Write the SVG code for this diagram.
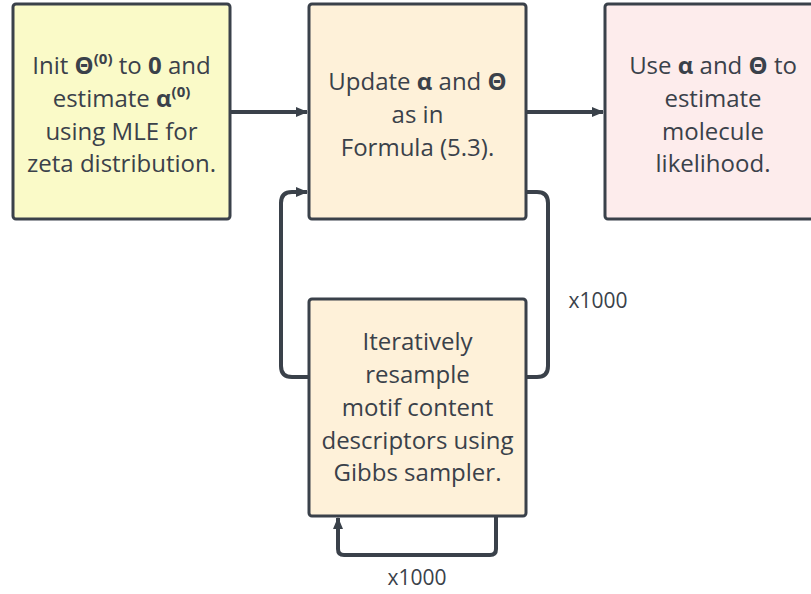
<svg xmlns="http://www.w3.org/2000/svg" width="811" height="594" viewBox="0 0 811 594">
  <style>
    .box { stroke: #3a414a; stroke-width: 3; }
    .t { font-family: "Open Sans", "Liberation Sans", sans-serif; font-size: 24px; fill: #3a414a; text-anchor: middle; }
    .b { font-weight: 700; }
    .sup { font-size: 15px; font-weight: 700; }
    .lbl { font-family: "Open Sans", "Liberation Sans", sans-serif; font-size: 21px; fill: #3a414a; text-anchor: middle; }
    .edge { fill: none; stroke: #3a414a; stroke-width: 4; stroke-linejoin: round; }
  </style>
  <defs>
    <marker id="arrow" viewBox="0 0 12 10" refX="11" refY="5" markerWidth="12" markerHeight="10" markerUnits="userSpaceOnUse" orient="auto">
      <path d="M0,0 L12,5 L0,10 Z" fill="#3a414a"/>
    </marker>
  </defs>

  <rect width="811" height="594" fill="#ffffff"/>

  <g id="connectors">
    <path class="edge" d="M230,112 H307" marker-end="url(#arrow)"/>
    <path class="edge" d="M526,112 H603" marker-end="url(#arrow)"/>
    <path class="edge" d="M309,377 H292 Q281,377 281,366 V203 Q281,192 292,192 H307" marker-end="url(#arrow)"/>
    <path class="edge" d="M526,192 H537 Q548,192 548,203 V366 Q548,377 537,377 H526"/>
    <path class="edge" d="M496,516 V549 Q496,555 490,555 H344 Q338,555 338,549 V518" marker-end="url(#arrow)"/>
    <text class="lbl" x="598" y="308">x1000</text>
    <text class="lbl" x="417" y="585">x1000</text>
  </g>

  <g id="init">
    <rect class="box" x="13" y="4" width="217" height="215" rx="3" fill="#fafac8"/>
    <text class="t" x="121.5" y="74">Init <tspan class="b">Θ</tspan><tspan class="sup" dy="-10">(0)</tspan><tspan dy="10"> to </tspan><tspan class="b">0</tspan> and</text>
    <text class="t" x="121.5" y="107">estimate <tspan class="b">α</tspan><tspan class="sup" dy="-10">(0)</tspan></text>
    <text class="t" x="121.5" y="140">using MLE for</text>
    <text class="t" x="121.5" y="172">zeta distribution.</text>
  </g>

  <g id="update">
    <rect class="box" x="309" y="4" width="217" height="215" rx="3" fill="#fef1d9"/>
    <text class="t" x="417.5" y="90">Update <tspan class="b">α</tspan> and <tspan class="b">Θ</tspan></text>
    <text class="t" x="417.5" y="123">as in</text>
    <text class="t" x="417.5" y="156">Formula (5.3).</text>
  </g>

  <g id="estimate">
    <rect class="box" x="605" y="4" width="217" height="215" rx="3" fill="#fdecec"/>
    <text class="t" x="713" y="74">Use <tspan class="b">α</tspan> and <tspan class="b">Θ</tspan> to</text>
    <text class="t" x="713" y="107">estimate</text>
    <text class="t" x="713" y="140">molecule</text>
    <text class="t" x="713" y="172">likelihood.</text>
  </g>

  <g id="resample">
    <rect class="box" x="309" y="299" width="217" height="217" rx="3" fill="#fef1d9"/>
    <text class="t" x="417.5" y="350">Iteratively</text>
    <text class="t" x="417.5" y="383">resample</text>
    <text class="t" x="417.5" y="416">motif content</text>
    <text class="t" x="417.5" y="449">descriptors using</text>
    <text class="t" x="417.5" y="481">Gibbs sampler.</text>
  </g>
</svg>
